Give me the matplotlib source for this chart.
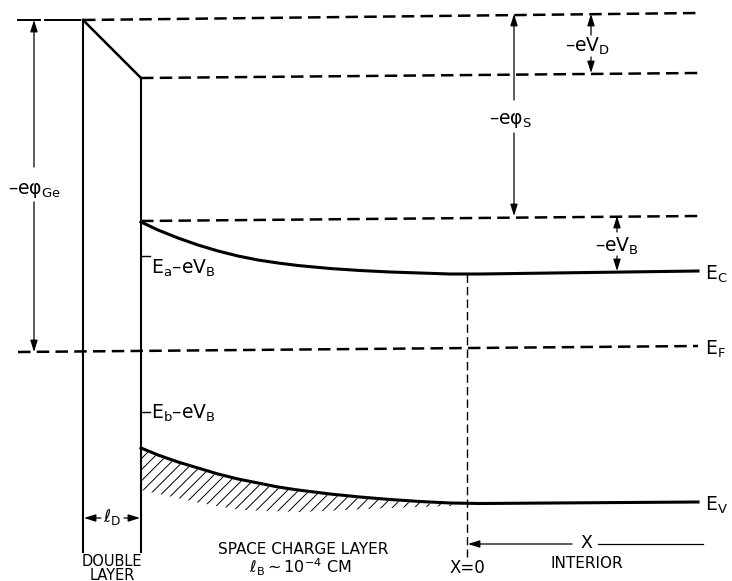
import matplotlib
matplotlib.use("Agg")
import matplotlib.pyplot as plt
import numpy as np

plt.rcParams['font.family'] = ['DejaVu Sans']
plt.rcParams['mathtext.fontset'] = 'dejavusans'
plt.rcParams['mathtext.default'] = 'regular'
plt.rcParams['lines.scale_dashes'] = False
plt.rcParams['hatch.linewidth'] = 0.7

# ---- data (drawing coordinates, y grows downward) ----
# conduction band E_C across the space charge layer and interior
ec_x = [141, 158, 178, 198, 218, 238, 258, 278, 298, 330, 360, 390, 420, 450, 480, 698]
ec_y = [222, 230, 238, 245, 251, 256, 260, 263, 265.5, 268.5, 270.5, 272, 273, 274, 274, 271]
# valence band E_V
ev_x = [141, 158, 178, 198, 218, 238, 258, 278, 298, 330, 360, 390, 420, 450, 480, 698]
ev_y = [448, 455, 462, 468, 474, 479, 483, 487, 490, 494, 497, 499.5, 501.5, 503, 503.5, 502]
# lower edge of the hatched (filled) region under E_V
hatch_x = [141, 200, 240, 300, 390, 450, 462]
hatch_bottom = [490, 503, 510, 512, 508, 506, 504]

# levels (dashed)
top_level = [(83, 20), (698, 13)]
vd_level = [(141, 78), (698, 73)]
vb_level = [(141, 221), (698, 216)]
ef_level = [(18, 352), (698, 346)]

# boundaries
x_surface = 83
x_inner = 141
x_zero = 467
y_bottom = 552

fig = plt.figure(figsize=(7.32, 5.81), dpi=100)
ax = fig.add_axes([0, 0, 1, 1])
ax.set_xlim(0, 732)
ax.set_ylim(581, 0)
ax.axis('off')

K = 'black'
dash = (9, 4.5)

# dashed levels
ax.plot([18, 40], [20, 20], color=K, lw=1.4)
ax.plot([45, 80], [20, 20], color=K, lw=1.4)
for lvl in (top_level, vd_level, vb_level, ef_level):
    xs, ys = zip(*lvl)
    ax.plot(xs, ys, color=K, lw=1.8, ls=(0, dash))

# double layer
ax.plot([x_surface, x_surface], [20, y_bottom], color=K, lw=1.5)
ax.plot([x_inner, x_inner], [78, y_bottom], color=K, lw=1.5)
ax.plot([x_surface, x_inner], [20, 78], color=K, lw=1.8)

# bands
ax.plot(ec_x, ec_y, color=K, lw=2.2, solid_joinstyle='round')
ax.plot(ev_x, ev_y, color=K, lw=2.2, solid_joinstyle='round')

# hatching under E_V
hx = np.linspace(141, 462, 80)
top_h = np.interp(hx, ev_x, ev_y) + 1.5
bot_h = np.interp(hx, hatch_x, hatch_bottom)
ax.fill_between(hx, top_h, bot_h, facecolor='none', edgecolor=K,
                hatch='///', linewidth=0)

# x = 0 dashed vertical
ax.plot([x_zero, x_zero], [274, 557], color=K, lw=1.0, ls=(0, (6, 3)))

def arr(x0, y0, x1, y1, lw=0.9):
    ax.annotate('', xy=(x1, y1), xytext=(x0, y0),
                arrowprops=dict(arrowstyle='-|>,head_length=0.7,head_width=0.22',
                                color=K, lw=lw, shrinkA=0, shrinkB=0,
                                mutation_scale=10))

fs = 13.5
# -e phi_Ge
arr(34, 167, 34, 20)
arr(34, 202, 34, 352)
ax.text(35, 191, r'–e$\varphi_{Ge}$', fontsize=fs, ha='center', va='center')

# -e phi_S
arr(514, 100, 514, 14)
arr(514, 133, 514, 216)
ax.text(511, 121, r'–e$\varphi_{S}$', fontsize=fs, ha='center', va='center')

# -eV_D
arr(591, 35, 591, 14)
arr(591, 57, 591, 73)
ax.text(588, 46, r'–eV$_{D}$', fontsize=fs, ha='center', va='center')

# -eV_B
arr(617, 232, 617, 216)
arr(617, 256, 617, 271)
ax.text(617, 246, r'–eV$_{B}$', fontsize=fs, ha='center', va='center')

# band labels
ax.text(705, 274, r'E$_{C}$', fontsize=13.5, ha='left', va='center')
ax.text(705, 349, r'E$_{F}$', fontsize=13.5, ha='left', va='center')
ax.text(705, 505, r'E$_{V}$', fontsize=13.5, ha='left', va='center')

# surface state labels
ax.plot([x_inner, 150], [256, 256], color=K, lw=1.0)
ax.text(151, 268, r'E$_{a}$–eV$_{B}$', fontsize=fs, ha='left', va='center')
ax.plot([x_inner, 150], [412, 412], color=K, lw=1.0)
ax.text(151, 413, r'E$_{b}$–eV$_{B}$', fontsize=fs, ha='left', va='center')

# l_D
arr(101, 518, 84, 518, lw=0.9)
arr(124, 518, 140, 518, lw=0.9)
ax.text(112, 517, r'$\ell_{D}$', fontsize=12.5, ha='center', va='center')

# X arrow
ax.plot([598, 703], [544, 544], color=K, lw=0.9)
arr(572, 544, 468, 544)
ax.text(586, 543, 'X', fontsize=12.5, ha='center', va='center')

# bottom captions
fs2 = 11
ax.text(112, 561, 'DOUBLE', fontsize=10.5, ha='center', va='center')
ax.text(112, 575, 'LAYER', fontsize=10.5, ha='center', va='center')
ax.text(303, 550, 'SPACE CHARGE LAYER', fontsize=fs2, ha='center', va='center')
ax.text(300, 567, r'$\ell_{B}\sim$10$^{-4}$ CM', fontsize=11.5, ha='center', va='center')
ax.text(467, 568, 'X=0', fontsize=12, ha='center', va='center')
ax.text(587, 564, 'INTERIOR', fontsize=fs2, ha='center', va='center')

fig.savefig('out.png', dpi=100, facecolor='white')
